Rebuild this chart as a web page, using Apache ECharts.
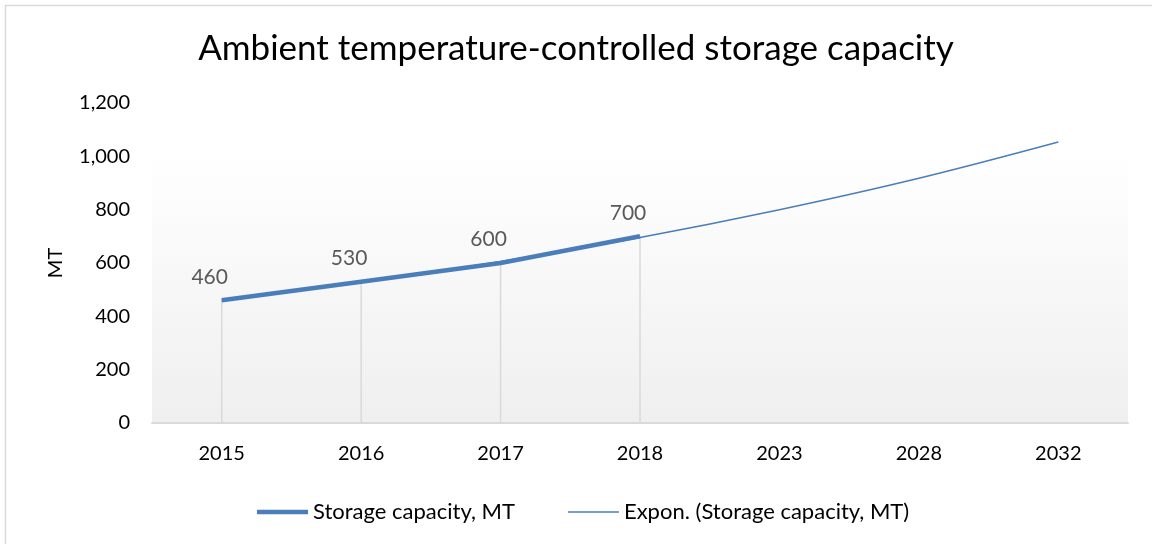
<!DOCTYPE html>
<html>
<head>
<meta charset="utf-8">
<script src="https://cdn.jsdelivr.net/npm/echarts@6/dist/echarts.min.js"></script>
<style>
  html, body { margin: 0; padding: 0; background: #ffffff; }
  #chart { width: 1152px; height: 544px; }
</style>
</head>
<body>
<div id="chart"></div>
<script>
// Years on the category axis
const years = ['2015', '2016', '2017', '2018', '2023', '2028', '2032'];
// Measured storage capacity, MT
const capacity = [460, 530, 600, 700];
// Exponential trend values at each year
const trend = [460, 528, 606, 696, 800, 918, 1054];
// Value axis ticks
const yTicks = [0, 200, 400, 600, 800, 1000, 1200];

const FONT = 'Lato, "Open Sans", sans-serif';
const BLUE = '#4a7ebb';

const chart = echarts.init(document.getElementById('chart'), null, { renderer: 'canvas' });

chart.setOption({
  backgroundColor: '#ffffff',
  animation: false,
  graphic: [
    {
      type: 'rect',
      shape: { x: 5.5, y: 5.5, width: 1200, height: 600 },
      style: { fill: 'none', stroke: '#d9d9d9', lineWidth: 1.5 },
      silent: true,
      z: -10
    }
  ],
  title: {
    text: 'Ambient temperature-controlled storage capacity',
    left: 'center',
    top: 26,
    textStyle: { fontFamily: FONT, fontSize: 35, fontWeight: 'normal', color: '#000000' }
  },
  legend: {
    left: 252,
    top: 496,
    itemWidth: 51,
    itemHeight: 20,
    itemGap: 53,
    itemStyle: { borderWidth: 0 },
    textStyle: { fontFamily: FONT, fontSize: 22, color: '#000000' },
    data: [
      {
        name: 'Storage capacity, MT',
        icon: 'path://M0,0 L50,0 L50,4.5 L0,4.5 Z',
        itemStyle: { color: BLUE, borderWidth: 0 }
      },
      {
        name: 'Expon. (Storage capacity, MT)',
        icon: 'path://M0,0 L50,0 L50,1.5 L0,1.5 Z',
        itemStyle: { color: BLUE, borderWidth: 0 }
      }
    ]
  },
  grid: {
    left: 152,
    right: 24,
    top: 103,
    bottom: 121,
    show: true,
    borderWidth: 0,
    backgroundColor: {
      type: 'linear', x: 0, y: 0, x2: 0, y2: 1,
      colorStops: [
        { offset: 0, color: '#ffffff' },
        { offset: 0.15, color: '#ffffff' },
        { offset: 1, color: '#efefef' }
      ]
    }
  },
  xAxis: {
    type: 'category',
    data: years,
    boundaryGap: true,
    axisLine: { show: true, lineStyle: { color: '#d9d9d9', width: 2 } },
    axisTick: { show: false },
    axisLabel: { fontFamily: FONT, fontSize: 20, color: '#000000', margin: 21 },
    splitLine: { show: false }
  },
  yAxis: {
    type: 'value',
    name: 'MT',
    nameLocation: 'middle',
    nameGap: 86,
    nameRotate: 90,
    nameTextStyle: { fontFamily: FONT, fontSize: 20, color: '#000000' },
    min: yTicks[0],
    max: yTicks[yTicks.length - 1],
    interval: yTicks[1] - yTicks[0],
    axisLine: { show: false },
    axisTick: { show: false },
    splitLine: { show: false },
    axisLabel: {
      fontFamily: FONT, fontSize: 20, color: '#000000', margin: 22,
      formatter: v => v.toLocaleString('en-US')
    }
  },
  series: [
    {
      // drop lines from each measured point down to the axis
      name: 'drop',
      type: 'bar',
      data: capacity,
      barWidth: 1.5,
      itemStyle: { color: '#d9d9d9' },
      silent: true,
      z: 1
    },
    {
      name: 'Expon. (Storage capacity, MT)',
      type: 'line',
      data: trend,
      smooth: 0.35,
      symbol: 'none',
      lineStyle: { color: BLUE, width: 1.5 },
      itemStyle: { color: BLUE },
      z: 3
    },
    {
      name: 'Storage capacity, MT',
      type: 'line',
      data: capacity,
      symbol: 'circle',
      symbolSize: 0.1,
      showSymbol: true,
      lineStyle: { color: BLUE, width: 4.5, cap: 'butt' },
      itemStyle: { color: BLUE },
      label: {
        show: true,
        position: 'top',
        offset: [-12, -8],
        fontFamily: FONT,
        fontSize: 21,
        color: '#595959'
      },
      z: 4
    }
  ]
});
</script>
</body>
</html>
